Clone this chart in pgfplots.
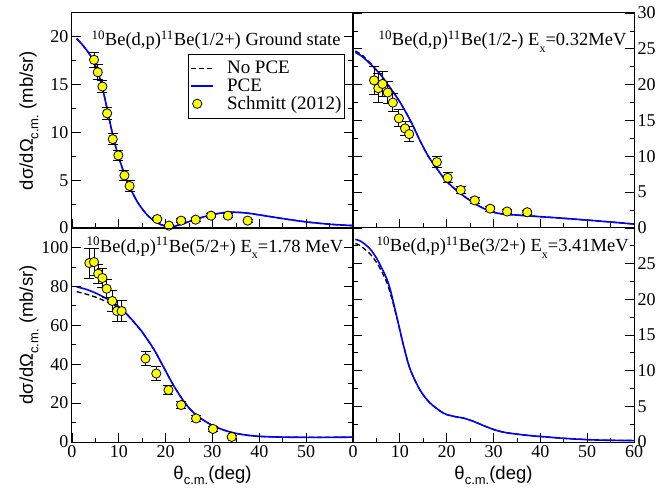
\documentclass[border=0pt]{standalone}
\usepackage{fontspec}
\setmainfont{Liberation Serif}
\setsansfont{Liberation Sans}
\usepackage{pgfplots}
\pgfplotsset{compat=1.18}
\definecolor{pceblue}{HTML}{0000FF}
\definecolor{dotyellow}{HTML}{FFFF00}

\newcommand{\cm}{\raisebox{-0.3em}{\fontsize{13}{13}\selectfont c.m.}}
\newcommand{\lowx}{\raisebox{-0.35em}{\fontsize{12}{12}\selectfont x}}
\newcommand{\lgfont}{\hspace{12pt}\fontsize{19}{19}\selectfont}

\pgfplotsset{
  panel/.style={
    scale only axis, width=281pt, height=215pt,
    xmin=0, xmax=60, xtick={0,10,...,60},
    minor x tick num=1, minor y tick num=1,
    tick align=inside, xtick pos=bottom, ytick pos=both,
    major tick length=9pt, minor tick length=4.5pt,
    axis line style={line width=1pt},
    tick style={black, line width=0.8pt},
    tick label style={font=\fontsize{18}{18}\selectfont},
    /pgf/number format/assume math mode=true,
    label style={font=\sffamily\fontsize{18.5}{18.5}\selectfont},
    clip=false,
  },
  ylab/.style={ylabel={dσ/dΩ\cm\ (mb/sr)},
    ylabel style={at={(axis description cs:-0.139,0.5)}, anchor=base, rotate=0}},
  xlab/.style={xlabel={θ\cm(deg)},
    xlabel style={at={(axis description cs:0.5,0)}, anchor=base, yshift=-37pt}},
  pce/.style={pceblue, line width=1.6pt, no marks, smooth,
    legend image code/.code={\draw[##1] (0pt,0pt) -- (22pt,0pt);}},
  nopce/.style={black, line width=1.3pt, dash pattern=on 5pt off 3pt, no marks, smooth,
    legend image code/.code={\draw[##1] (0pt,0pt) -- (22pt,0pt);}},
  expt/.style={only marks, mark=*, mark size=4.6pt,
    mark options={fill=dotyellow, draw=black, line width=0.8pt},
    legend image code/.code={\draw[draw=none, mark=*, mark size=4.6pt,
      mark options={fill=dotyellow, draw=black, line width=0.8pt}] plot coordinates {(6pt,0pt)};
      \path (0pt,0pt) (22pt,0pt);},
    error bars/.cd, y dir=both, y explicit,
    error bar style={black, line width=0.9pt},
    error mark options={rotate=90, mark size=5pt, line width=0.9pt, black}},
}
\tikzset{ttl/.style={anchor=base west, font=\fontsize{18.5}{18.5}\selectfont}}

\begin{document}
\begin{tikzpicture}
\useasboundingbox (0,0) rectangle (659pt,488pt);

% top left: ground state
\begin{axis}[panel, ylab, at={(72pt,260pt)}, anchor=south west,
  ymin=0, ymax=22.5, ytick={0,5,...,20}, xticklabels={},
  legend style={at={(rel axis cs:0.413,0.81)}, anchor=north west, draw=black, line width=0.8pt,
    inner xsep=2pt, inner ysep=6pt, row sep=1.5pt,
    nodes={inner sep=1pt}},
  legend cell align=left]
\addplot[nopce] coordinates {
(1,19.8) (2,19.3) (3,18.7) (4,18.0) (5,17.0) (6,15.6) (7,13.6) (8,11.3) (9,9.1) (10,7.4)
(11,5.9) (12,4.6) (13,3.6) (14,2.7) (15,2.0) (16,1.4) (17,0.95) (18,0.6) (19,0.35) (20,0.2)
(21,0.15) (22,0.2) (23,0.35) (24,0.5) (26,0.85) (28,1.15) (30,1.4) (32,1.58) (34,1.65)
(36,1.62) (38,1.52) (40,1.37) (42,1.22) (44,1.06) (46,0.91) (48,0.77) (50,0.64) (52,0.53)
(54,0.44) (56,0.36) (58,0.3) (60,0.25)};
\addlegendentry{\lgfont No PCE}
\addplot[pce] coordinates {
(1,19.8) (2,19.3) (3,18.7) (4,18.0) (5,17.0) (6,15.6) (7,13.6) (8,11.3) (9,9.1) (10,7.4)
(11,5.9) (12,4.6) (13,3.6) (14,2.7) (15,2.0) (16,1.4) (17,0.95) (18,0.6) (19,0.35) (20,0.2)
(21,0.15) (22,0.2) (23,0.35) (24,0.5) (26,0.85) (28,1.15) (30,1.4) (32,1.58) (34,1.65)
(36,1.62) (38,1.52) (40,1.37) (42,1.22) (44,1.06) (46,0.91) (48,0.77) (50,0.64) (52,0.53)
(54,0.44) (56,0.36) (58,0.3) (60,0.25)};
\addlegendentry{\lgfont PCE}
\addplot[expt] coordinates {
(4.7,17.6) +- (0,0.8) (5.5,16.3) +- (0,0.8) (6.5,14.8) +- (0,0.66) (7.5,12.0) +- (0,0.63)
(8.7,9.3) +- (0,0.55) (9.9,7.6) +- (0,0.5) (11.2,5.5) +- (0,0.5) (12.3,4.4) +- (0,0.6)
(18.2,0.94) +- (0,0.2) (20.7,0.25) +- (0,0.15) (23.3,0.77) +- (0,0.2) (26.4,0.87) +- (0,0.2)
(29.7,1.29) +- (0,0.2) (33.3,1.29) +- (0,0.2) (37.5,0.77) +- (0,0.15)};
\addlegendentry{\lgfont Schmitt (2012)}
\node[ttl] at (rel axis cs:0,1) [xshift=16pt, yshift=-33pt]
  {\textsuperscript{10}Be(d,p)\textsuperscript{11}Be(1/2+) Ground state};
\end{axis}

% top right: 1/2-
\begin{axis}[panel, at={(353pt,260pt)}, anchor=south west,
  ymin=0, ymax=30, ytick={0,5,...,30}, xticklabels={}, yticklabel pos=right]
\addplot[nopce] coordinates {
(0.5,24.7) (2,24.1) (4,22.8) (6,21.3) (8,19.5) (10,17.6) (12,15.3) (13,14.0) (14,12.6)
(15,11.3) (16,10.1) (17,9.1) (18,8.2) (19,7.3) (20,6.5) (22,5.3) (24,4.3) (26,3.4) (28,2.7)
(30,2.2) (32,1.95) (34,1.85) (36,1.75) (38,1.67) (40,1.58) (44,1.4) (48,1.2) (52,1.0)
(56,0.78) (60,0.55)};
\addplot[pce] coordinates {
(0.5,24.5) (2,23.9) (4,22.7) (6,21.3) (8,19.5) (10,17.6) (12,15.3) (13,14.0) (14,12.6)
(15,11.3) (16,10.1) (17,9.1) (18,8.2) (19,7.3) (20,6.5) (22,5.3) (24,4.3) (26,3.4) (28,2.7)
(30,2.2) (32,1.95) (34,1.85) (36,1.75) (38,1.67) (40,1.58) (44,1.4) (48,1.2) (52,1.0)
(56,0.78) (60,0.55)};
\addplot[expt] coordinates {
(4.5,20.6) +- (0,2.0) (5.4,19.5) +- (0,2.0) (6.3,20.1) +- (0,1.8) (7.4,18.9) +- (0,1.5)
(8.5,17.5) +- (0,1.3) (9.8,15.3) +- (0,1.2) (11.1,13.9) +- (0,1.0) (12.0,13.1) +- (0,1.0)
(17.9,9.2) +- (0,0.8) (20.2,7.0) +- (0,0.7) (23.0,5.3) +- (0,0.5) (26.0,3.85) +- (0,0.4)
(29.3,2.7) +- (0,0.35) (32.9,2.3) +- (0,0.3) (37.2,2.2) +- (0,0.3)};
\node[ttl] at (rel axis cs:0,1) [xshift=22pt, yshift=-33pt]
  {\textsuperscript{10}Be(d,p)\textsuperscript{11}Be(1/2-) E\lowx=0.32MeV};
\end{axis}

% bottom left: 5/2+
\begin{axis}[panel, ylab, xlab, at={(72pt,46pt)}, anchor=south west, height=214pt,
  ymin=0, ymax=110, ytick={0,20,...,100}, xtick={0,10,...,50}]
\addplot[nopce] coordinates {
(1,77.3) (3,76.0) (5,74.5) (7,72.5) (9,70.2) (10,68.8) (12,64.8) (14,59.3) (15,56.4) (16,53.0)
(17,49.5) (18,45.5) (19,41.0) (20,36.5) (21,32.0) (22,27.8) (23,24.0) (24,20.5) (25,17.5)
(26,15.0) (27,13.0) (28,11.3) (30,8.5) (32,6.5) (34,5.0) (36,4.0) (38,3.3) (40,2.9) (42,2.7)
(45,2.5) (50,2.4) (55,2.4) (60,2.5)};
\addplot[pce] coordinates {
(1,79.7) (3,78.5) (5,76.6) (7,74.2) (9,71.3) (10,69.5) (12,65.0) (14,59.5) (15,56.5) (16,53.0)
(17,49.5) (18,45.5) (19,41.0) (20,36.5) (21,32.0) (22,27.8) (23,24.0) (24,20.5) (25,17.5)
(26,15.0) (27,13.0) (28,11.3) (30,8.5) (32,6.5) (34,5.0) (36,4.0) (38,3.3) (40,2.9) (42,2.7)
(45,2.5) (50,2.4) (55,2.4) (60,2.5)};
\addplot[expt] coordinates {
(3.7,92.0) +- (0,7.7) (4.7,92.5) +- (0,7.0) (5.6,86.5) +- (0,5.0) (6.5,84.3) +- (0,4.7)
(7.4,78.8) +- (0,4.6) (8.6,72.5) +- (0,5.5) (9.6,67.3) +- (0,5.5) (10.6,67.3) +- (0,5.5)
(15.7,42.9) +- (0,3.7) (18.0,35.2) +- (0,3.4) (20.6,26.7) +- (0,2.4) (23.3,19.0) +- (0,1.7)
(26.5,12.1) +- (0,1.5) (30.1,6.7) +- (0,1.2) (34.1,2.6) +- (0,0.8)};
\node[ttl] at (rel axis cs:0,1) [xshift=11pt, yshift=-24pt]
  {\textsuperscript{10}Be(d,p)\textsuperscript{11}Be(5/2+) E\lowx=1.78 MeV};
\end{axis}

% bottom right: 3/2+
\begin{axis}[panel, xlab, at={(353pt,46pt)}, anchor=south west, height=214pt,
  ymin=0, ymax=30, ytick={0,5,...,30}, yticklabels={0,5,10,15,20,25,{}},
  yticklabel pos=right]
\addplot[nopce] coordinates {
(0.5,27.8) (1.1,27.7) (2,27.3) (3.6,26.4) (5,25.2) (5.8,24.3) (7,22.7) (7.9,21.0) (9.3,17.6)
(10.8,13.5) (12.2,10.2) (14.3,7.3) (16.4,5.5) (19.3,4.05) (21.5,3.6) (23.6,3.35) (25.7,2.9)
(27.5,2.4) (29.3,1.93) (31,1.55) (32.8,1.3) (35,1.1) (37.8,0.9) (41,0.72) (44.9,0.52)
(48,0.4) (52,0.28) (56,0.23) (60,0.2)};
\addplot[pce] coordinates {
(0.5,28.4) (1.1,28.3) (2,28.0) (3.6,27.1) (5,25.8) (5.8,24.8) (7,23.2) (7.9,21.5) (9.3,17.7)
(10.8,13.5) (12.2,10.2) (14.3,7.3) (16.4,5.5) (19.3,4.05) (21.5,3.6) (23.6,3.35) (25.7,2.9)
(27.5,2.4) (29.3,1.93) (31,1.55) (32.8,1.3) (35,1.1) (37.8,0.9) (41,0.72) (44.9,0.52)
(48,0.4) (52,0.28) (56,0.23) (60,0.2)};
\node[ttl] at (rel axis cs:0,1) [xshift=20pt, yshift=-24pt]
  {\textsuperscript{10}Be(d,p)\textsuperscript{11}Be(3/2+) E\lowx=3.41MeV};
\end{axis}
\end{tikzpicture}
\end{document}
